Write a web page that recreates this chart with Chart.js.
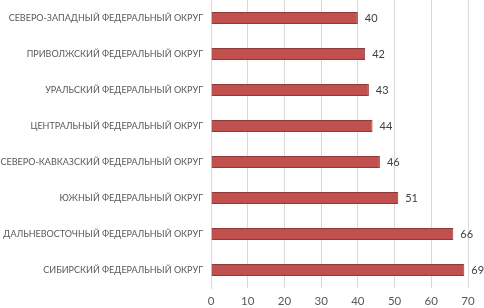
<!DOCTYPE html>
<html>
<head>
<meta charset="utf-8">
<script src="https://cdn.jsdelivr.net/npm/chart.js@4"></script>
<style>
  html, body { margin: 0; padding: 0; background: #fff; }
  #wrap { width: 484px; height: 308px; }
</style>
</head>
<body>
<div id="wrap"><canvas id="chart"></canvas></div>
<script>
// Данные
const districts = [
    "СЕВЕРО-ЗАПАДНЫЙ ФЕДЕРАЛЬНЫЙ ОКРУГ",
    "ПРИВОЛЖСКИЙ ФЕДЕРАЛЬНЫЙ ОКРУГ",
    "УРАЛЬСКИЙ ФЕДЕРАЛЬНЫЙ ОКРУГ",
    "ЦЕНТРАЛЬНЫЙ ФЕДЕРАЛЬНЫЙ ОКРУГ",
    "СЕВЕРО-КАВКАЗСКИЙ ФЕДЕРАЛЬНЫЙ ОКРУГ",
    "ЮЖНЫЙ ФЕДЕРАЛЬНЫЙ ОКРУГ",
    "ДАЛЬНЕВОСТОЧНЫЙ ФЕДЕРАЛЬНЫЙ ОКРУГ",
    "СИБИРСКИЙ ФЕДЕРАЛЬНЫЙ ОКРУГ"
];
const values = [40, 42, 43, 44, 46, 51, 66, 69];
const xTicks = [0, 10, 20, 30, 40, 50, 60, 70];

// подписи значений справа от столбцов
const valueLabels = {
    id: "valueLabels",
    afterDatasetsDraw(chart) {
        const c = chart.ctx;
        const meta = chart.getDatasetMeta(0);
        c.save();
        c.font = "11px Lato, 'Open Sans', sans-serif";
        c.fillStyle = "#404040";
        c.textAlign = "left";
        c.textBaseline = "middle";
        meta.data.forEach((bar, i) => {
            c.fillText(values[i], bar.x + 7, bar.y);
        });
        c.restore();
    }
};

const ctx = document.getElementById("chart");

new Chart(ctx, {
    type: "bar",
    data: {
        labels: districts,
        datasets: [{
            data: values,
            backgroundColor: "#C0504D",
            borderColor: "#8E3A38",
            borderWidth: 1,
            barPercentage: 0.66,
            categoryPercentage: 0.5
        }]
    },
    options: {
        indexAxis: "y",
        responsive: true,
        maintainAspectRatio: false,
        animation: false,
        layout: { padding: { left: 0, right: 16, top: 0, bottom: 0 } },
        plugins: {
            legend: { display: false },
            tooltip: { enabled: false }
        },
        scales: {
            x: {
                min: 0,
                max: 70,
                afterBuildTicks: (scale) => {
                    scale.ticks = xTicks.map(v => ({ value: v }));
                },
                afterFit: (scale) => { scale.height = 20; },
                grid: { color: "#D9D9D9", drawTicks: false },
                border: { display: false },
                ticks: {
                    color: "#595959",
                    padding: 6,
                    font: { size: 11.5, family: "Lato, 'Open Sans', sans-serif" }
                }
            },
            y: {
                afterFit: (scale) => {
                    scale.width = 211;
                    scale.paddingTop = 0;
                    scale.paddingBottom = 0;
                },
                grid: { display: false, drawTicks: false },
                border: { display: true, color: "#D9D9D9" },
                ticks: {
                    color: "#595959",
                    padding: 8,
                    autoSkip: false,
                    font: { size: 9, family: "Lato, 'Open Sans', sans-serif" }
                }
            }
        }
    },
    plugins: [valueLabels]
});
</script>
</body>
</html>
